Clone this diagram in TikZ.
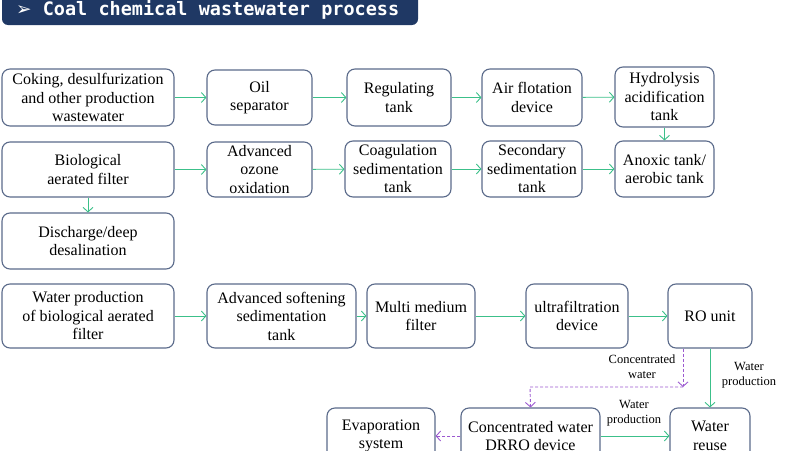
\documentclass[tikz,border=0pt]{standalone}
\usepackage{fontspec}
\usepackage{xcolor}
\usetikzlibrary{positioning,calc,arrows.meta}
\setmainfont{Liberation Serif}
\newfontfamily\boxfont{Liberation Serif}
\newfontfamily\titlefont{DejaVu Sans Mono}
\newfontfamily\symfont{DejaVu Sans}
\definecolor{navy}{HTML}{1F3864}
\definecolor{boxline}{HTML}{5A6A8A}
\definecolor{flowgreen}{HTML}{3CC08A}
\definecolor{flowpurple}{HTML}{9B59D0}
\begin{document}
\begin{tikzpicture}[x=1pt, y=-1pt,
	box/.style={draw=boxline, line width=1.1pt, rounded corners=8pt, align=center, inner sep=1pt,
		font=\boxfont\fontsize{16}{18.5}\selectfont},
	flow/.style={draw=flowgreen, line width=0.9pt, -{Straight Barb[length=4.5pt,width=10pt]}},
	brine/.style={draw=flowpurple, line width=0.9pt, dashed, dash pattern=on 3pt off 2pt, -{Straight Barb[length=4.5pt,width=10pt]}},
	lbl/.style={font=\boxfont\fontsize{12.5}{15}\selectfont, align=center, inner sep=1pt}]
	\useasboundingbox (0,0) rectangle (790,450);
	\clip (0,0) rectangle (790,450);
	% title bar
	\fill[navy, rounded corners=6pt] (2,-10) rectangle (418,25);
	\node[name=title, anchor=base west, text=white, font=\titlefont\bfseries\fontsize{18.5}{22}\selectfont, inner sep=0pt]
		at (16,15) {{\symfont\char"27A2}\ Coal chemical wastewater process};
	% first row
	\node[box, name=coke, minimum width=172pt, minimum height=57pt] at (88,97.5) {Coking, desulfurization\\and other production\\wastewater};
	\node[box, name=oil, minimum width=105pt, minimum height=55pt] at (259.5,97.5) {Oil\\separator};
	\node[box, name=regtank, minimum width=104pt, minimum height=57pt] at (399,97.5) {Regulating\\tank};
	\node[box, name=airflot, minimum width=100pt, minimum height=57pt] at (532,97.5) {Air flotation\\device};
	\node[box, name=hydro, minimum width=99pt, minimum height=60pt] at (664.5,97) {Hydrolysis\\acidification\\tank};
	% second row
	\node[box, name=baf, minimum width=172pt, minimum height=55pt] at (88,169.5) {Biological\\aerated filter};
	\node[box, name=ozone, minimum width=105pt, minimum height=55pt] at (259.5,169.5) {Advanced\\ozone\\oxidation};
	\node[box, name=coag, minimum width=106pt, minimum height=56pt] at (398,169) {Coagulation\\sedimentation\\tank};
	\node[box, name=secsed, minimum width=100pt, minimum height=56pt] at (532,169) {Secondary\\sedimentation\\tank};
	\node[box, name=anoxic, minimum width=99pt, minimum height=56pt] at (664.5,169) {Anoxic tank/\\aerobic tank};
	\node[box, name=disch, minimum width=172pt, minimum height=56pt] at (88,241) {Discharge/deep\\desalination};
	% reuse line
	\node[box, name=bafwater, minimum width=172pt, minimum height=64pt] at (88,316) {Water production\\of biological aerated\\filter};
	\node[box, name=soften, minimum width=149pt, minimum height=64pt] at (281.5,316) {Advanced softening\\sedimentation\\tank};
	\node[box, name=mmf, minimum width=108pt, minimum height=64pt] at (421,316) {Multi medium\\filter};
	\node[box, name=uf, minimum width=102pt, minimum height=64pt] at (577,316) {ultrafiltration\\device};
	\node[box, name=ro, minimum width=84pt, minimum height=64pt] at (710,316) {RO unit};
	\node[box, name=evap, minimum width=108pt, minimum height=56pt] at (381,436) {Evaporation\\system};
	\node[box, name=drro, minimum width=139pt, minimum height=56pt] at (530.5,436) {Concentrated water\\DRRO device};
	\node[box, name=reuse, minimum width=80pt, minimum height=56pt] at (710,436) {Water\\reuse};
	\coordinate (split) at (683,387);
	% connectors
	\draw[flow] (coke) -- (oil);
	\draw[flow] (oil) -- (regtank);
	\draw[flow] (regtank) -- (airflot);
	\draw[flow] (airflot) -- (hydro);
	\draw[flow] (hydro) -- (anoxic);
	\draw[flow] (baf) -- (ozone);
	\draw[flow] (ozone) -- (coag);
	\draw[flow] (coag) -- (secsed);
	\draw[flow] (secsed) -- (anoxic);
	\draw[flow] (baf) -- (disch);
	\draw[flow] (bafwater) -- (soften);
	\draw[flow] (soften) -- (mmf);
	\draw[flow] (mmf) -- (uf);
	\draw[flow] (uf) -- (ro);
	\draw[flow] (ro) -- (reuse);
	\draw[flow] (drro) -- (reuse);
	\draw[brine] (ro.south -| split) -- (split);
	\draw[brine] (split) -- (530,387) -- (drro.north);
	\draw[brine] (drro) -- (evap);
	% labels
	\node[lbl, name=lconc] at (642,367) {Concentrated\\water};
	\node[lbl, name=lro] at (749,375) {Water\\production};
	\node[lbl, name=ldrro] at (634,413) {Water\\production};
\end{tikzpicture}
\end{document}
